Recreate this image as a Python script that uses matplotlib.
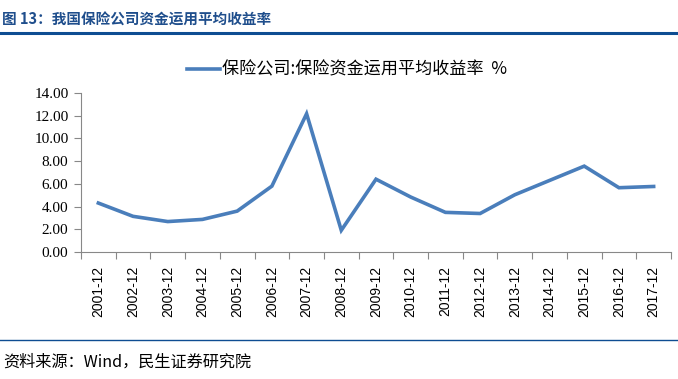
import numpy as np
import matplotlib.pyplot as plt
from matplotlib.lines import Line2D

# --- Data ---
years = ['2001-12', '2002-12', '2003-12', '2004-12', '2005-12', '2006-12',
         '2007-12', '2008-12', '2009-12', '2010-12', '2011-12', '2012-12',
         '2013-12', '2014-12', '2015-12', '2016-12', '2017-12']
yield_rate = [4.31, 3.14, 2.68, 2.87, 3.60, 5.80, 12.17, 1.91, 6.41, 4.84,
              3.49, 3.39, 5.04, 6.30, 7.56, 5.66, 5.77]
yticks = [0, 2, 4, 6, 8, 10, 12, 14]

title_text = '图 13：我国保险公司资金运用平均收益率'
legend_text = '保险公司:保险资金运用平均收益率  %'
source_text = '资料来源：Wind，民生证券研究院'

cjk = ['Noto Sans CJK SC', 'DejaVu Sans']
serif = ['Liberation Serif', 'DejaVu Serif']

W, H = 678, 379
fig = plt.figure(figsize=(W / 100, H / 100), dpi=100)

# --- Header / footer ---
fig.text(2 / W, 1 - 20 / H, title_text, family=cjk, fontsize=10.5,
         fontweight='bold', color='#1F4E8C', va='center', ha='left')
fig.add_artist(Line2D([0, 1], [1 - 32.5 / H] * 2, color='#0E4D92', lw=2.2))
fig.add_artist(Line2D([0, 1], [1 - 340 / H] * 2, color='#0E4D92', lw=1))
fig.text(3 / W, 1 - 362 / H, source_text, family=cjk, fontsize=11.6,
         color='black', va='center', ha='left')

# --- Chart ---
ax = fig.add_axes([81 / W, 1 - 252 / H, 590 / W, 159 / H])
x = np.arange(len(years))
ax.plot(x, yield_rate, color='#4A7EBB', lw=2.6, solid_joinstyle='miter')

ax.set_xlim(-0.5, len(years) - 0.5)
ax.set_ylim(0, 14)
ax.set_yticks(yticks)
ax.set_yticklabels([f'{v:.2f}' for v in yticks], family=serif, fontsize=11)
ax.set_xticks(np.arange(len(years) + 1) - 0.5)
ax.set_xticklabels([])
ax.set_xticks(x, minor=True)
ax.set_xticklabels(years, minor=True, rotation=90, family=['Liberation Sans'],
                   fontsize=10)
ax.tick_params(axis='x', which='minor', length=0, pad=10)
ax.tick_params(axis='x', which='major', length=5, color='#888888', direction='out')
ax.tick_params(axis='y', length=5, color='#888888', direction='out', pad=4)

for side in ['top', 'right']:
    ax.spines[side].set_visible(False)
for side in ['left', 'bottom']:
    ax.spines[side].set_color('#888888')

# --- Legend ---
fig.add_artist(Line2D([187 / W, 220 / W], [1 - 69 / H] * 2, color='#4A7EBB', lw=2.6))
fig.text(222 / W, 1 - 69 / H, legend_text, family=cjk, fontsize=12.3,
         va='center', ha='left')

fig.savefig('out.png', dpi=100)
